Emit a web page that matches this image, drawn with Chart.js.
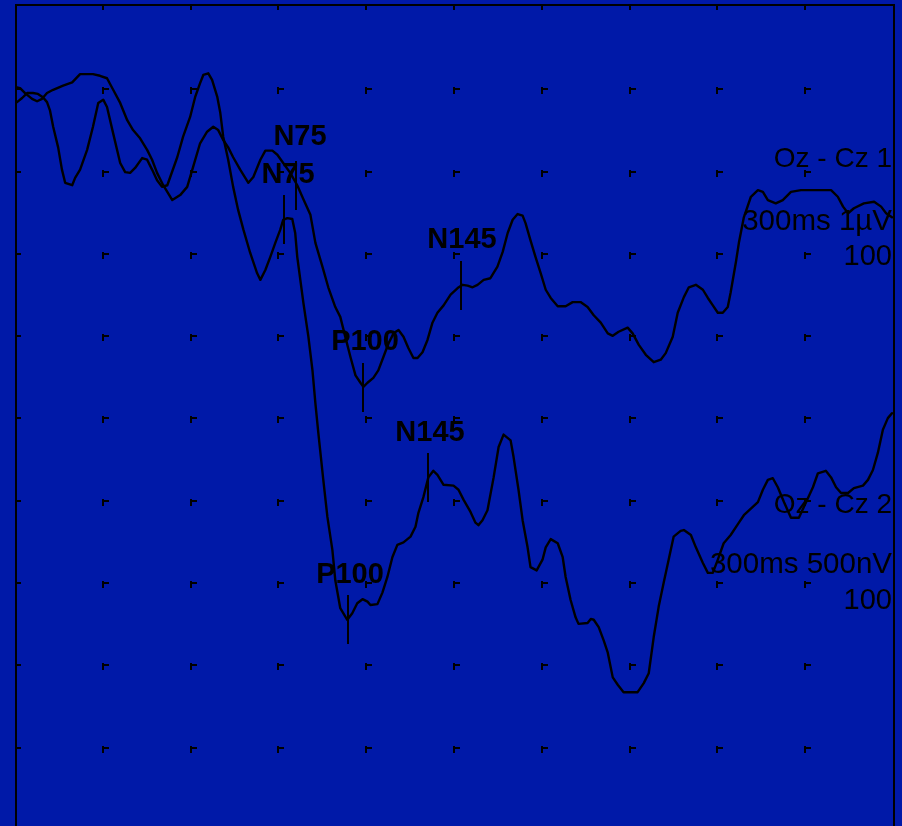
<!DOCTYPE html>
<html>
<head>
<meta charset="utf-8">
<title>Oz - Cz</title>
<script src="https://cdn.jsdelivr.net/npm/chart.js@4/dist/chart.umd.min.js"></script>
<style>
  html, body { margin: 0; padding: 0; background: #0019a8; overflow: hidden; }
  canvas { display: block; }
</style>
</head>
<body>
<canvas id="vep" width="902" height="826"></canvas>
<script>
// Sweep: 300 ms across 10 divisions; amplitudes in grid divisions below the top edge.
const times1 = [0,1.4,3.1,5.5,7.2,8.9,10.6,12.7,16.1,19.2,21.9,26.3,28.7,31.1,33.2,35.6,38.0,40.0,42.4,44.8,46.5,48.2,50.3,53.4,56.1,58.5,60.5,62.9,65.3,67.4,69.1,70.8,72.5,74.2,76.6,79.4,81.1,83.5,85.2,87.6,89.3,91.3,93.7,96.1,98.2,100.6,102.3,104.7,106.7,109.1,110.8,112.5,114.3,116.0,117.7,118.7,120.1,122.1,123.8,125.5,127.3,129.0,130.7,132.4,134.1,135.8,137.2,138.9,140.6,142.3,144.0,146.1,148.5,150.9,152.6,154.3,156.0,157.7,159.8,162.1,164.5,166.3,168.0,169.7,171.4,173.1,174.1,175.8,177.5,179.3,181.0,182.7,185.1,187.8,190.2,192.9,195.3,197.4,199.8,202.2,203.9,205.9,209.0,210.7,212.8,215.2,217.9,220.3,222.0,224.4,226.1,228.2,229.9,232.3,234.7,236.4,238.1,239.8,241.5,243.2,244.2,246.0,247.0,248.7,251.1,253.5,255.2,256.9,259.6,262.0,264.8,268.2,278.5,280.8,282.6,284.3,286.3,289.7,293.2,295.6,297.3,299.3];
const amps1 = [1.00,1.01,1.07,1.14,1.17,1.14,1.07,1.03,0.98,0.94,0.84,0.84,0.86,0.89,1.03,1.19,1.40,1.52,1.62,1.76,1.88,2.04,2.19,2.37,2.31,2.21,1.97,1.68,1.54,1.48,1.52,1.64,1.73,1.85,2.00,2.16,2.09,1.88,1.77,1.77,1.82,1.92,2.04,2.19,2.36,2.55,2.89,3.18,3.43,3.67,3.79,4.03,4.28,4.50,4.59,4.64,4.59,4.53,4.44,4.28,4.11,3.99,3.95,4.03,4.17,4.29,4.29,4.22,4.07,3.86,3.74,3.65,3.52,3.44,3.40,3.41,3.43,3.40,3.34,3.32,3.18,3.00,2.77,2.61,2.54,2.56,2.65,2.86,3.06,3.26,3.46,3.56,3.66,3.66,3.61,3.61,3.67,3.77,3.86,3.99,4.02,3.97,3.92,3.99,4.13,4.25,4.34,4.31,4.23,4.03,3.74,3.55,3.43,3.40,3.46,3.56,3.65,3.74,3.74,3.67,3.49,3.12,2.89,2.58,2.33,2.25,2.27,2.37,2.41,2.37,2.27,2.25,2.25,2.33,2.45,2.53,2.47,2.41,2.39,2.45,2.53,2.58];

const times2 = [0,2.1,3.8,5.8,7.5,9.2,10.6,11.6,12.7,14.4,15.7,16.8,19.2,20.2,21.9,24.3,26.3,28.1,29.8,31.1,33.2,35.6,37.3,39.0,40.7,43.1,44.8,46.5,48.2,49.9,51.7,52.7,55.1,57.1,59.5,61.2,62.9,64.0,65.7,67.0,68.8,69.8,70.8,72.5,74.2,75.9,77.7,80.0,82.4,83.5,85.2,86.9,88.6,90.3,91.3,92.7,94.4,95.4,96.1,98.2,99.9,101.3,102.3,103.3,105.0,106.4,108.1,109.1,110.8,113.2,114.9,116.6,118.4,120.1,121.1,123.5,125.2,126.9,128.6,130.3,132.4,134.8,136.5,137.5,139.2,140.9,142.6,144.0,146.1,149.5,151.2,152.9,155.3,157.0,158.0,159.4,161.1,163.2,164.9,166.6,169.0,170.0,171.7,173.1,174.8,175.8,177.9,179.9,181.0,182.7,185.1,186.8,187.8,189.5,191.2,192.2,195.3,196.4,197.4,199.1,200.8,202.2,203.9,205.6,207.6,212.4,214.5,216.2,217.9,219.6,221.3,223.0,224.7,227.1,228.2,230.6,232.3,234.7,236.4,238.1,239.8,241.8,244.2,247.0,248.7,251.1,253.5,255.2,256.9,258.6,260.3,262.4,264.8,267.5,269.2,272.3,274.0,276.7,278.5,280.2,281.9,284.3,286.3,289.4,291.1,292.8,294.5,296.2,297.9,299.3];
const amps2 = [1.19,1.13,1.07,1.07,1.08,1.12,1.18,1.28,1.48,1.73,2.00,2.16,2.19,2.10,2.00,1.76,1.48,1.19,1.15,1.24,1.56,1.92,2.03,2.04,1.98,1.86,1.88,2.00,2.13,2.21,2.19,2.09,1.85,1.60,1.36,1.12,0.95,0.85,0.83,0.91,1.12,1.31,1.60,1.88,2.21,2.49,2.73,3.01,3.26,3.34,3.22,3.06,2.89,2.73,2.61,2.59,2.60,2.77,3.06,3.62,4.03,4.44,4.84,5.20,5.77,6.22,6.62,6.99,7.33,7.47,7.39,7.27,7.22,7.25,7.29,7.28,7.14,6.95,6.71,6.56,6.53,6.46,6.34,6.17,5.98,5.74,5.66,5.71,5.83,5.84,5.89,6.01,6.16,6.29,6.32,6.26,6.14,5.74,5.37,5.22,5.29,5.49,5.89,6.26,6.59,6.83,6.87,6.74,6.59,6.49,6.54,6.71,6.95,7.23,7.44,7.52,7.51,7.46,7.47,7.56,7.72,7.87,8.17,8.26,8.35,8.35,8.24,8.12,7.68,7.31,7.02,6.74,6.46,6.39,6.38,6.44,6.59,6.78,6.90,6.90,6.74,6.54,6.44,6.29,6.20,6.12,6.04,5.89,5.77,5.75,5.86,6.04,6.23,6.23,6.10,5.86,5.69,5.66,5.74,5.86,5.93,5.93,5.87,5.84,5.77,5.65,5.44,5.16,5.02,4.96];

// Peak markers (latency in ms, amplitude in divisions)
const peakNames = ['N75', 'P100', 'N145'];
const peakTimes1 = [95.8, 118.4, 152.2];
const peakAmps1 = [2.19, 4.65, 3.41];
const peakTimes2 = [91.7, 113.6, 140.9];
const peakAmps2 = [2.61, 7.47, 5.74];

// Channel captions
const channelNames = ['Oz - Cz 1', 'Oz - Cz 2'];
const sweepLabels = ['300ms 1µV', '300ms 500nV'];
const averageCounts = ['100', '100'];

// Grid: 10 x 10 divisions
const timeTicks = [30, 60, 90, 120, 150, 180, 210, 240, 270];
const divTicks = [1, 2, 3, 4, 5, 6, 7, 8, 9];

const BG = '#0019a8';
const INK = '#000000';
const FONT = "'Liberation Sans', Arial, Helvetica, sans-serif";

const toPoints = (t, a) => t.map((x, i) => ({ x, y: a[i] }));

// Caption layout: baseline in divisions, font size per caption line
const captionRows = [[1.97, 2.73, 3.16], [6.17, 6.90, 7.34]];
const captionSizes = [28, 29.5, 29];
const markerHalf = 0.3;
const labelLift = [[16, 13, 13], [12, 12, 12]];
const labelShift = [[4, 2, 1], [4, 2, 2]];

const backdrop = {
  id: 'backdrop',
  beforeDraw(chart) {
    const ctx = chart.ctx;
    ctx.save();
    ctx.fillStyle = BG;
    ctx.fillRect(0, 0, chart.width, chart.height);
    ctx.restore();
  }
};

const frame = {
  id: 'frame',
  beforeDatasetsDraw(chart) {
    const { ctx, chartArea: a, scales: { x, y } } = chart;
    const L = Math.round(a.left), T = Math.round(a.top), R = Math.round(a.right);
    ctx.save();
    ctx.fillStyle = INK;
    // grid marks
    timeTicks.forEach(t => {
      const px = Math.round(x.getPixelForValue(t));
      divTicks.forEach(d => {
        const py = Math.round(y.getPixelForValue(d));
        ctx.fillRect(px - 2, py, 2, 7);
        ctx.fillRect(px - 2, py + 1, 7, 2);
      });
      ctx.fillRect(px - 2, T, 2, 5);
    });
    divTicks.forEach(d => {
      const py = Math.round(y.getPixelForValue(d));
      ctx.fillRect(L, py + 1, 5, 2);
    });
    // border
    ctx.fillRect(L - 1, T - 1, 2, chart.height);
    ctx.fillRect(L - 1, T - 1, R - L + 2, 2);
    ctx.fillRect(R - 1, T - 1, 2, chart.height);
    ctx.restore();
  }
};

const annotations = {
  id: 'annotations',
  afterDatasetsDraw(chart) {
    const { ctx, chartArea: a, scales: { x, y } } = chart;
    const sets = [[peakTimes1, peakAmps1], [peakTimes2, peakAmps2]];
    ctx.save();
    ctx.fillStyle = INK;
    sets.forEach(([times, amps], c) => {
      times.forEach((t, i) => {
        const px = Math.round(x.getPixelForValue(t));
        const top = Math.round(y.getPixelForValue(amps[i] - markerHalf));
        const bot = Math.round(y.getPixelForValue(amps[i] + markerHalf));
        ctx.fillRect(px - 1, top, 2, bot - top);
        ctx.font = `bold 29px ${FONT}`;
        ctx.textAlign = 'center';
        ctx.textBaseline = 'alphabetic';
        ctx.fillText(peakNames[i], px + labelShift[c][i], top - labelLift[c][i]);
      });
    });
    // channel captions, clipped at the frame
    ctx.beginPath();
    ctx.rect(a.left, a.top, a.right - a.left - 1, a.bottom - a.top);
    ctx.clip();
    ctx.textAlign = 'right';
    const lines = [channelNames, sweepLabels, averageCounts];
    [0, 1].forEach(c => {
      lines.forEach((row, r) => {
        ctx.font = `${captionSizes[r]}px ${FONT}`;
        ctx.fillText(row[c], a.right - 2, y.getPixelForValue(captionRows[c][r]));
      });
    });
    ctx.restore();
  }
};

const traceStyle = {
  borderColor: INK,
  borderWidth: 2.4,
  pointRadius: 0,
  tension: 0,
  fill: false,
  borderJoinStyle: 'round',
  borderCapStyle: 'round'
};

new Chart(document.getElementById('vep'), {
  type: 'line',
  data: {
    datasets: [
      { label: channelNames[0], data: toPoints(times1, amps1), ...traceStyle },
      { label: channelNames[1], data: toPoints(times2, amps2), ...traceStyle }
    ]
  },
  options: {
    responsive: false,
    devicePixelRatio: 1,
    animation: false,
    layout: { padding: { left: 16, right: 8, top: 5, bottom: 0 } },
    scales: {
      x: { type: 'linear', min: 0, max: 300, display: false },
      y: { type: 'linear', min: 0, max: 9.976, reverse: true, display: false }
    },
    plugins: {
      legend: { display: false },
      title: { display: false },
      tooltip: { enabled: false }
    }
  },
  plugins: [backdrop, frame, annotations]
});
</script>
</body>
</html>
